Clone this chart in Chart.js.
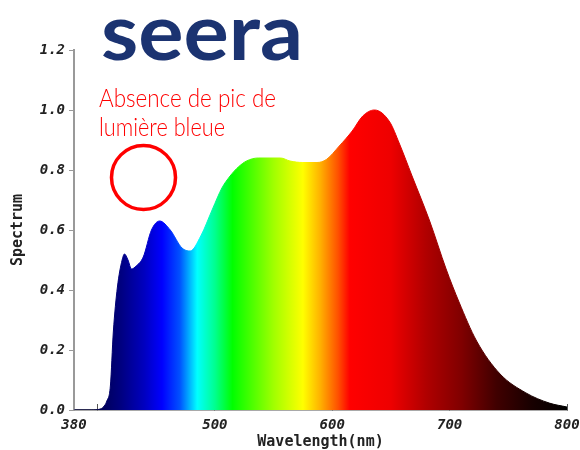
<!DOCTYPE html>
<html>
<head>
<meta charset="utf-8">
<script src="https://cdn.jsdelivr.net/npm/chart.js@4"></script>
<style>
  html, body { margin: 0; padding: 0; background: #fff; }
  #wrap { position: relative; width: 580px; height: 450px; }
</style>
</head>
<body>
<div id="wrap"><canvas id="spectrumChart" width="580" height="450"></canvas></div>
<script>
// wavelength (nm) and relative spectrum
const wavelengths = [380, 395, 402, 405, 408, 411, 413.5, 417, 421, 423, 426, 429, 433, 439, 446, 453, 462, 472, 479, 488, 498, 506, 513, 520, 527, 537, 547, 556, 564, 575, 587, 595, 606, 617, 626, 636, 649, 657, 668, 683, 697, 708, 723, 743, 765, 785, 800];
const spectrum    = [0, 0, 0.003, 0.01, 0.03, 0.08, 0.26, 0.41, 0.5, 0.52, 0.5, 0.47, 0.48, 0.51, 0.6, 0.63, 0.6, 0.54, 0.53, 0.58, 0.67, 0.74, 0.78, 0.81, 0.83, 0.84, 0.84, 0.84, 0.83, 0.825, 0.825, 0.835, 0.88, 0.93, 0.98, 1.0, 0.96, 0.89, 0.78, 0.63, 0.47, 0.36, 0.23, 0.12, 0.057, 0.023, 0.01];

const xTicks = [380, 400, 500, 600, 700, 800];
const xLabelled = [380, 500, 600, 700, 800];
const yMax = 1.2;
const yStep = 0.2;

// colour stops of the fill, by wavelength
const stopNm     = [400, 420, 440, 455, 470, 485, 500, 515, 550, 575, 590, 605, 615, 650, 680, 710, 740, 770, 800];
const stopColors = ['#000050', '#000080', '#0000c0', '#0000ff', '#0050ff', '#00ffff', '#00ff90', '#00ff00', '#a0ff00', '#ffff00', '#ffb000', '#ff5000', '#ff0000', '#ee0000', '#b00000', '#800000', '#400000', '#180000', '#000000'];

const tickFont = { family: '"DejaVu Sans Mono", monospace', size: 14, weight: 'bold', style: 'italic' };
const titleFont = { family: '"DejaVu Sans Mono", monospace', size: 15, weight: 'bold' };

function spectrumGradient(context) {
  const chart = context.chart;
  const area = chart.chartArea;
  if (!area) return '#0000ff';
  const xs = chart.scales.x;
  const g = chart.ctx.createLinearGradient(area.left, 0, area.right, 0);
  const w = area.right - area.left;
  stopNm.forEach((nm, i) => {
    const p = (xs.getPixelForValue(nm) - area.left) / w;
    g.addColorStop(Math.min(1, Math.max(0, p)), stopColors[i]);
  });
  return g;
}

const overlay = {
  id: 'overlay',
  afterDraw(chart) {
    const ctx = chart.ctx;
    ctx.save();
    // logo, stretched to the width of the original
    ctx.fillStyle = '#1b3371';
    ctx.font = 'bold 78px Lato, sans-serif';
    ctx.textBaseline = 'alphabetic';
    const lw = ctx.measureText('seera').width;
    ctx.translate(101, 60);
    ctx.scale(202 / lw, 1);
    ctx.fillText('seera', 0, 0);
    ctx.restore();
    ctx.save();
    // annotation
    ctx.fillStyle = '#ff0000';
    ctx.font = '300 26px Lato, sans-serif';
    ctx.fillText('Absence de pic de', 99, 107, 177);
    ctx.fillText('lumière bleue', 99, 136, 126);
    ctx.strokeStyle = '#ff0000';
    ctx.lineWidth = 3.5;
    ctx.beginPath();
    ctx.arc(143.5, 177.5, 32, 0, Math.PI * 2);
    ctx.stroke();
    ctx.restore();
  }
};

new Chart(document.getElementById('spectrumChart'), {
  type: 'line',
  data: {
    datasets: [{
      label: 'Spectrum',
      data: wavelengths.map((w, i) => ({ x: w, y: spectrum[i] })),
      fill: 'origin',
      backgroundColor: spectrumGradient,
      borderColor: spectrumGradient,
      borderWidth: 1,
      pointRadius: 0,
      cubicInterpolationMode: 'monotone'
    }]
  },
  options: {
    responsive: false,
    animation: false,
    layout: { padding: { top: 50, right: 13, left: 0, bottom: 0 } },
    plugins: { legend: { display: false }, tooltip: { enabled: false } },
    scales: {
      x: {
        type: 'linear',
        min: 380,
        max: 800,
        afterBuildTicks: s => { s.ticks = xTicks.map(v => ({ value: v })); },
        afterFit: s => { s.height = 40; s.paddingLeft = 0; s.paddingRight = 0; },
        grid: { drawOnChartArea: false, drawTicks: true, tickLength: -6, color: '#555' },
        border: { color: '#555', width: 1.5 },
        ticks: {
          color: '#222',
          font: tickFont,
          padding: 13,
          maxRotation: 0,
          autoSkip: false,
          callback: v => xLabelled.includes(v) ? String(v) : ''
        },
        title: { display: true, text: 'Wavelength(nm)', color: '#222', font: titleFont, padding: { top: 0, bottom: -1 } }
      },
      y: {
        min: 0,
        max: yMax,
        afterFit: s => { s.width = 74; s.paddingTop = 0; s.paddingBottom = 0; },
        grid: { drawOnChartArea: false, drawTicks: true, tickLength: 5, color: '#999' },
        border: { color: '#999', width: 2 },
        ticks: {
          stepSize: yStep,
          color: '#222',
          font: tickFont,
          padding: 4,
          callback: v => Number(v).toFixed(1)
        },
        title: { display: true, text: 'Spectrum', color: '#222', font: titleFont, padding: { top: 9, bottom: 0 } }
      }
    }
  },
  plugins: [overlay]
});
</script>
</body>
</html>
